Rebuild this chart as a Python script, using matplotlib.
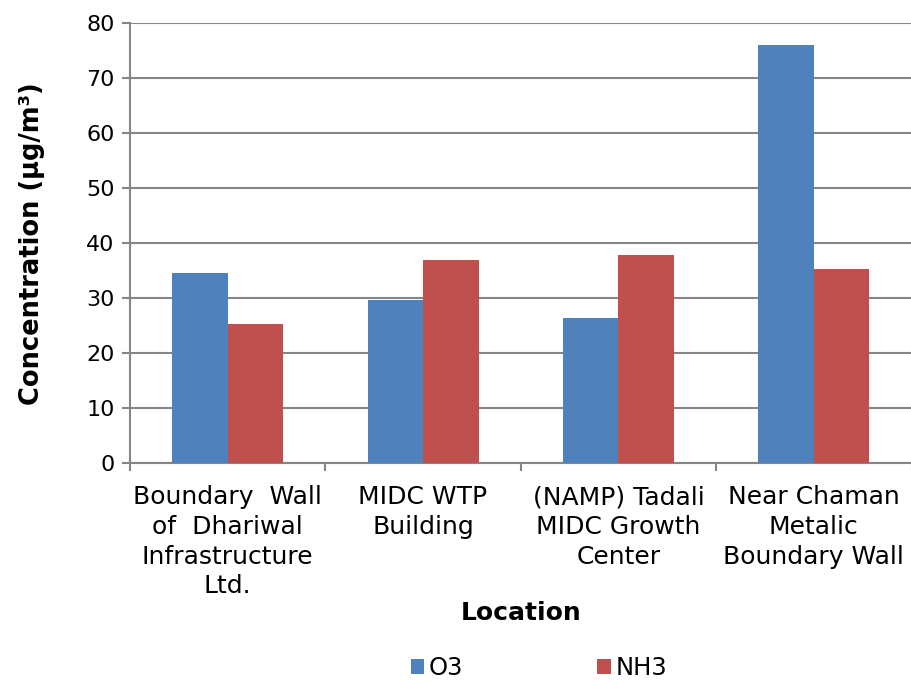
import matplotlib.pyplot as plt
import numpy as np
from matplotlib.ticker import FixedLocator, NullFormatter

locations = [
    "Boundary  Wall\nof  Dhariwal\nInfrastructure\nLtd.",
    "MIDC WTP\nBuilding",
    "(NAMP) Tadali\nMIDC Growth\nCenter",
    "Near Chaman\nMetalic\nBoundary Wall",
]
o3 = [34.5, 29.7, 26.4, 76.1]
nh3 = [25.3, 37.0, 37.8, 35.3]
series_names = ["O3", "NH3"]
colors = ["#4F81BD", "#C0504D"]

fig = plt.figure(figsize=(9.12, 6.82), dpi=100)
ax = fig.add_axes([0.1425, 0.321, 0.857, 0.645])

x = np.arange(len(locations))
w = 0.284
ax.bar(x - w / 2, o3, w, color=colors[0], label=series_names[0], zorder=3)
ax.bar(x + w / 2, nh3, w, color=colors[1], label=series_names[1], zorder=3)

ax.set_xlim(-0.5, len(locations) - 0.5)
ax.set_ylim(0, 80)
ax.set_yticks(np.arange(0, 81, 10))
ax.yaxis.grid(True, color="#868686", linewidth=1.5, zorder=0)
ax.set_axisbelow(True)

ax.xaxis.set_major_locator(FixedLocator(np.arange(-0.5, len(locations), 1.0)))
ax.xaxis.set_major_formatter(NullFormatter())
ax.xaxis.set_minor_locator(FixedLocator(x))
ax.set_xticklabels(locations, minor=True, fontsize=18, linespacing=1.3)
ax.tick_params(axis="x", which="minor", length=0, pad=16)
ax.tick_params(axis="x", which="major", length=6, width=1.5, color="#868686")
ax.tick_params(axis="y", length=6, width=1.5, color="#868686", labelsize=16, pad=5)

for side in ["top", "right"]:
    ax.spines[side].set_visible(False)
for side in ["left", "bottom"]:
    ax.spines[side].set_color("#868686")
    ax.spines[side].set_linewidth(1.5)

ax.set_ylabel("Concentration (µg/m³)", fontsize=18.5, fontweight="bold", labelpad=30)
ax.set_xlabel("Location", fontsize=18, fontweight="bold", labelpad=2)

fig.legend(loc="center", bbox_to_anchor=(0.591, 0.0205), ncol=2, frameon=False,
           fontsize=17.5, handlelength=0.55, handleheight=0.55, handletextpad=0.2,
           columnspacing=5.5)

fig.savefig("out.png", dpi=100)
